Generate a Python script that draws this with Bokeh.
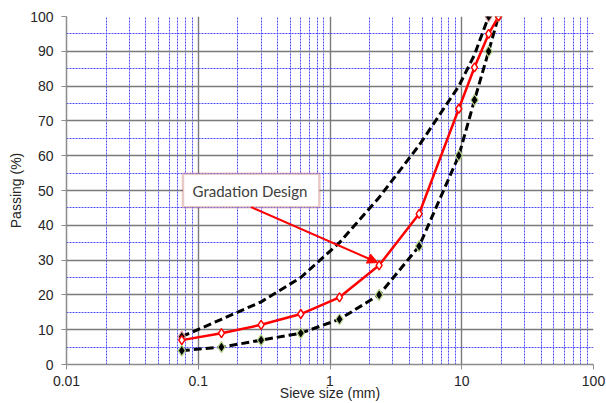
from bokeh.plotting import figure
from bokeh.models import (FixedTicker, CustomJSTickFormatter, Arrow, NormalHead,
                          BoxAnnotation, Label)
from bokeh.embed import file_html
from bokeh.resources import INLINE

# ---- data ----
sieve_lower = [0.075, 0.15, 0.3, 0.6, 1.18, 2.36, 4.75, 9.5, 12.5, 16, 19]
pass_lower = [4, 5, 7, 9, 13, 20, 34, 60, 76, 90, 100]

sieve_upper = [0.075, 0.15, 0.3, 0.6, 1.18, 2.36, 4.75, 9.5, 12.5, 16]
pass_upper = [8, 13, 18, 25, 35, 48, 63, 80, 89, 100]

sieve_design = [0.075, 0.15, 0.3, 0.6, 1.18, 2.36, 4.75, 9.5, 12.5, 16, 19]
pass_design = [7, 9, 11.4, 14.5, 19.3, 28.5, 43.3, 73.5, 85.4, 95, 100]

x_ticks = [0.01, 0.1, 1, 10, 100]
y_ticks = [0, 10, 20, 30, 40, 50, 60, 70, 80, 90, 100]
annotation_text = "Gradation Design"

# ---- figure ----
p = figure(width=606, height=403, x_axis_type="log", x_range=(0.01, 100), y_range=(0, 100),
           output_backend="svg", toolbar_location=None,
           min_border_left=66, min_border_right=13, min_border_top=16, min_border_bottom=39)
p.outline_line_color = None
p.background_fill_color = "white"

x_minor = [m * d for d in [0.01, 0.1, 1, 10] for m in range(2, 10)]
y_minor = [v + 5 for v in y_ticks[:-1]]
xt = FixedTicker(ticks=x_ticks, minor_ticks=x_minor)
yt = FixedTicker(ticks=y_ticks, minor_ticks=y_minor)
p.xaxis.ticker = xt
p.yaxis.ticker = yt
p.xgrid.ticker = xt
p.ygrid.ticker = yt
p.xaxis.formatter = CustomJSTickFormatter(code="return tick.toString();")

for g in (p.xgrid, p.ygrid):
    g.grid_line_color = "#7a7a7a"
    g.grid_line_width = 1.4
    g.minor_grid_line_color = "#4d4dff"
    g.minor_grid_line_dash = "2 1"
    g.minor_grid_line_width = 1

for ax in (p.xaxis, p.yaxis):
    ax.axis_line_color = "#8c8c8c"
    ax.axis_line_width = 1.5
    ax.major_tick_line_color = "#8c8c8c"
    ax.major_tick_out = 5
    ax.major_tick_in = 0
    ax.minor_tick_line_color = None
    ax.major_label_text_font = "Liberation Sans"
    ax.major_label_text_font_size = "14px"
    ax.major_label_text_color = "#262626"
    ax.axis_label_text_font = "Liberation Sans"
    ax.axis_label_text_font_size = "14px"
    ax.axis_label_text_font_style = "normal"
    ax.axis_label_text_color = "#262626"

p.xaxis.axis_label = "Sieve size (mm)"
p.yaxis.axis_label = "Passing (%)"
p.xaxis.major_label_standoff = 6
p.xaxis.axis_label_standoff = -4
p.yaxis.major_label_standoff = 8
p.yaxis.axis_label_standoff = 3

# ---- series ----
p.line(sieve_upper, pass_upper, line_color="black", line_width=3, line_dash="8 4")
p.line(sieve_lower, pass_lower, line_color="black", line_width=3, line_dash="8 4")
p.line(sieve_design, pass_design, line_color="#ff0000", line_width=2.5)

p.scatter(sieve_lower, pass_lower, marker="diamond", size=11, fill_color="black",
          line_color="#b6d38e", line_width=1.2)
p.scatter([sieve_upper[0], sieve_upper[-1]], [pass_upper[0], pass_upper[-1]], marker="diamond",
          size=11, fill_color="black", line_color="#e0a0a0", line_width=1.2)
p.scatter(sieve_design, pass_design, marker="diamond", size=9, fill_color="white",
          line_color="#ff0000", line_width=1.5)

# ---- annotation ----
box = BoxAnnotation(left=0.0766, right=0.83, bottom=45.2, top=54.8,
                    fill_color="white", fill_alpha=1.0, line_color="#b5494a", line_width=2.5)
p.add_layout(box)
p.add_layout(Label(x=0.0905, y=50, text=annotation_text, text_font="Lato",
                   text_font_size="15px", text_color="#404040", text_baseline="middle"))
p.add_layout(Arrow(end=NormalHead(size=10, fill_color="#ff0000", line_color="#ff0000"),
                   x_start=0.252, y_start=45.2, x_end=2.3, y_end=29.3,
                   line_color="#ff0000", line_width=2))

open("out.html", "w").write(file_html(p, INLINE))
